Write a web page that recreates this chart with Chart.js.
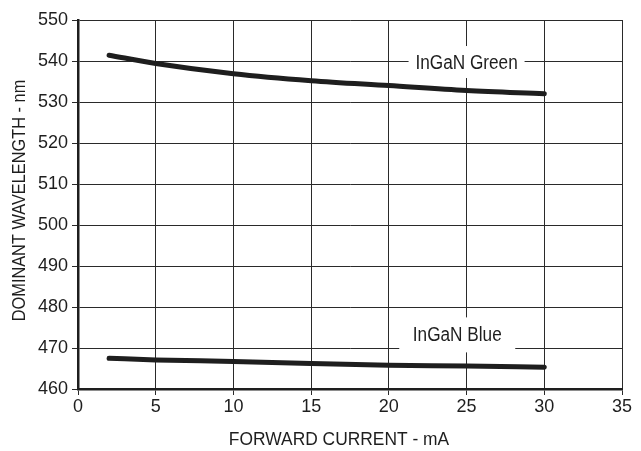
<!DOCTYPE html>
<html>
<head>
<meta charset="utf-8">
<script src="https://cdn.jsdelivr.net/npm/chart.js@4.4.1/dist/chart.umd.min.js"></script>
<style>
  html, body { margin: 0; padding: 0; background: #fff; }
  #wrap { width: 641px; height: 451px; }
</style>
</head>
<body>
<div id="wrap"><canvas id="chart" width="641" height="451"></canvas></div>
<script>
const current = [2, 5, 10, 15, 20, 25, 30];
const greenWl = [541.4, 539.4, 536.9, 535.2, 534.0, 532.8, 532.0];
const blueWl  = [467.5, 467.1, 466.7, 466.2, 465.8, 465.6, 465.3];
const seriesNames = ['InGaN Green', 'InGaN Blue'];
const xTitle = 'FORWARD CURRENT - mA';
const yTitle = 'DOMINANT WAVELENGTH - nm';

const FONT = "'Liberation Sans', Arial, sans-serif";
const INK = '#1e1e1e';

// the original uses a condensed face; squeeze the text horizontally
function narrowText(ctx, text, x, y, size, squeeze, angle) {
  ctx.save();
  ctx.translate(x, y);
  if (angle) ctx.rotate(angle);
  ctx.scale(squeeze, 1);
  ctx.fillStyle = INK;
  ctx.font = size + 'px ' + FONT;
  ctx.textAlign = 'center';
  ctx.textBaseline = 'middle';
  ctx.fillText(text, 0, 0);
  ctx.restore();
}

// text labels sitting on the chart, with a white box knocking out the grid
const curveLabels = {
  id: 'curveLabels',
  beforeDatasetsDraw(chart) {
    const { ctx, scales: { x, y } } = chart;
    const spots = [
      { text: seriesNames[0], x: 25.0, y: 539.75, w: 116, h: 32 },
      { text: seriesNames[1], x: 24.4, y: 473.2, w: 116, h: 35 }
    ];
    spots.forEach(function (s) {
      const px = x.getPixelForValue(s.x);
      const py = y.getPixelForValue(s.y);
      ctx.save();
      ctx.fillStyle = '#fff';
      ctx.fillRect(px - s.w / 2, py - s.h / 2, s.w, s.h);
      ctx.restore();
      narrowText(ctx, s.text, px, py + 1, 20, 0.86, 0);
    });
  },
  // axis titles sit a little off the plot centre in the original
  afterDraw(chart) {
    const { ctx, chartArea } = chart;
    const midX = (chartArea.left + chartArea.right) / 2;
    const midY = (chartArea.top + chartArea.bottom) / 2;
    narrowText(ctx, xTitle, midX - 11, 440, 18.5, 0.94, 0);
    narrowText(ctx, yTitle, 20, midY - 4, 19, 0.86, -Math.PI / 2);
  }
};

function toPoints(ys) {
  return current.map(function (c, i) { return { x: c, y: ys[i] }; });
}

new Chart(document.getElementById('chart').getContext('2d'), {
  type: 'line',
  data: {
    datasets: [
      {
        label: seriesNames[0],
        data: toPoints(greenWl),
        borderColor: INK,
        borderWidth: 5,
        pointRadius: 0,
        cubicInterpolationMode: 'monotone',
        borderCapStyle: 'round'
      },
      {
        label: seriesNames[1],
        data: toPoints(blueWl),
        borderColor: INK,
        borderWidth: 5,
        pointRadius: 0,
        cubicInterpolationMode: 'monotone',
        borderCapStyle: 'round'
      }
    ]
  },
  options: {
    responsive: false,
    animation: false,
    layout: { padding: { top: 20, right: 19, left: 0, bottom: 0 } },
    plugins: {
      legend: { display: false },
      tooltip: { enabled: false }
    },
    scales: {
      x: {
        type: 'linear',
        min: 0,
        max: 35,
        ticks: { stepSize: 5, color: INK, padding: 1, font: { family: FONT, size: 18 } },
        grid: { color: '#2a2a2a', lineWidth: 1, tickLength: 6 },
        border: { color: INK, width: 2.5 },
        afterFit: function (scale) { scale.height = 62; }
      },
      y: {
        min: 460,
        max: 550,
        ticks: { stepSize: 10, color: INK, padding: 4, font: { family: FONT, size: 18 } },
        grid: { color: '#2a2a2a', lineWidth: 1, tickLength: 6 },
        border: { color: INK, width: 2.5 },
        afterFit: function (scale) { scale.width = 78; }
      }
    }
  },
  plugins: [curveLabels]
});
</script>
</body>
</html>
